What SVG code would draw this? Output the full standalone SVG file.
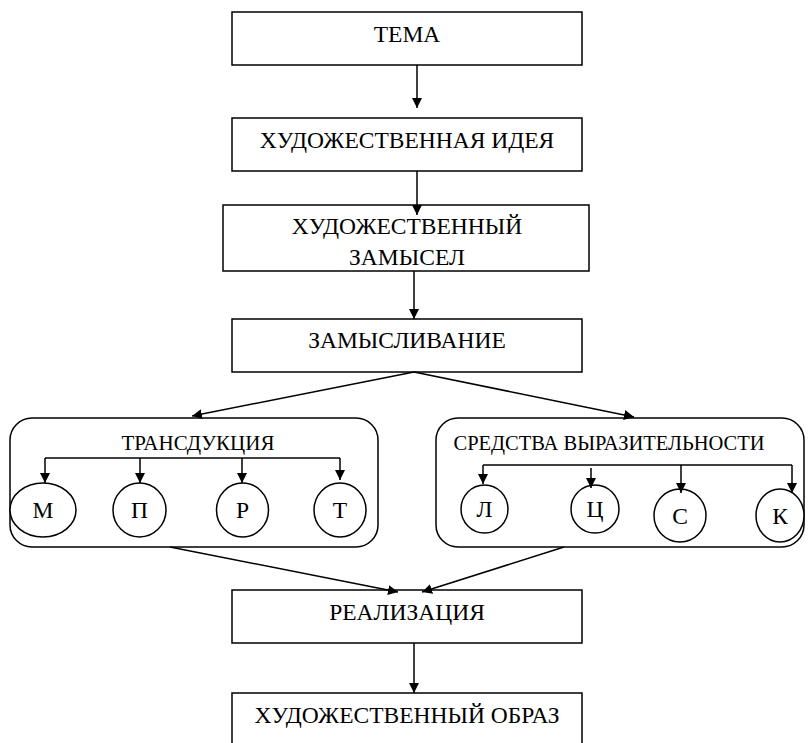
<svg xmlns="http://www.w3.org/2000/svg" width="808" height="743" viewBox="0 0 808 743">
<defs>
<marker id="ah" viewBox="0 0 10 10" refX="10" refY="5" markerWidth="10" markerHeight="10" markerUnits="userSpaceOnUse" orient="auto">
<path d="M0,0 L10,5 L0,10 Z" fill="#000"/>
</marker>
</defs>
<style>
.b { fill: #fff; stroke: #000; stroke-width: 1.5; }
.c line { stroke: #000; stroke-width: 1.5; fill: none; marker-end: url(#ah); }
.c .plain { marker-end: none; }
.t { font-family: "Liberation Serif", "Times New Roman", serif; font-size: 23.5px; fill: #000; text-anchor: middle; }
.s { font-size: 21px; }
.s2 { font-size: 20.5px; }
</style>

<g id="n-tema"><rect class="b" x="232" y="12" width="350" height="53"/><text class="t" x="407" y="42">ТЕМА</text></g>
<g id="n-idea"><rect class="b" x="232" y="118" width="350" height="53"/><text class="t" x="407" y="148">ХУДОЖЕСТВЕННАЯ ИДЕЯ</text></g>
<g id="n-zamysel"><rect class="b" x="223" y="205" width="366" height="66"/><text class="t" x="407" y="234">ХУДОЖЕСТВЕННЫЙ</text><text class="t" x="407" y="265">ЗАМЫСЕЛ</text></g>
<g id="n-zamysl"><rect class="b" x="232" y="319" width="350" height="53"/><text class="t" x="407" y="348">ЗАМЫСЛИВАНИЕ</text></g>

<g id="n-trans"><rect class="b" x="10" y="418" width="368" height="129" rx="22" ry="22"/><text class="t s" x="198" y="450">ТРАНСДУКЦИЯ</text></g>
<g id="n-m"><ellipse class="b" cx="43" cy="510" rx="33" ry="27"/><text class="t" x="43" y="518">М</text></g>
<g id="n-p"><ellipse class="b" cx="139.5" cy="510" rx="26.5" ry="27"/><text class="t" x="139.5" y="518">П</text></g>
<g id="n-r"><ellipse class="b" cx="242.5" cy="510" rx="26" ry="27"/><text class="t" x="242.5" y="518">Р</text></g>
<g id="n-t"><ellipse class="b" cx="340" cy="510" rx="26" ry="27"/><text class="t" x="340" y="518">Т</text></g>

<g id="n-sredstva"><rect class="b" x="436" y="418" width="368" height="129" rx="22" ry="22"/><text class="t s2" x="609" y="450">СРЕДСТВА ВЫРАЗИТЕЛЬНОСТИ</text></g>
<g id="n-l"><ellipse class="b" cx="484.5" cy="509" rx="23.5" ry="24"/><text class="t" x="484.5" y="517">Л</text></g>
<g id="n-c"><ellipse class="b" cx="595" cy="509" rx="24" ry="24"/><text class="t" x="595" y="517">Ц</text></g>
<g id="n-s"><ellipse class="b" cx="680" cy="515.5" rx="26" ry="26.5"/><text class="t" x="680" y="524">С</text></g>
<g id="n-k"><ellipse class="b" cx="780" cy="515.5" rx="24" ry="26.5"/><text class="t" x="780" y="524">К</text></g>

<g id="n-real"><rect class="b" x="232" y="590" width="350" height="53"/><text class="t" x="407" y="620">РЕАЛИЗАЦИЯ</text></g>
<g id="n-obraz"><rect class="b" x="232" y="693" width="350" height="60"/><text class="t" x="407" y="723">ХУДОЖЕСТВЕННЫЙ ОБРАЗ</text></g>

<g id="connectors" class="c">
<line x1="417" y1="65" x2="417" y2="108"/>
<line x1="417" y1="171" x2="417" y2="215"/>
<line x1="414" y1="271" x2="414" y2="319"/>
<line x1="414" y1="372" x2="192" y2="416"/>
<line x1="414" y1="372" x2="634" y2="417"/>
<line class="plain" x1="45" y1="458" x2="340" y2="458"/>
<line x1="45" y1="458" x2="45" y2="483"/>
<line x1="140" y1="458" x2="140" y2="483"/>
<line x1="242" y1="458" x2="242" y2="483"/>
<line x1="340" y1="458" x2="340" y2="480"/>
<line class="plain" x1="483" y1="465" x2="792" y2="465"/>
<line x1="483" y1="465" x2="483" y2="484"/>
<line x1="591" y1="468" x2="591" y2="488"/>
<line x1="681" y1="465" x2="681" y2="493"/>
<line x1="792" y1="465" x2="792" y2="493"/>
<line x1="170" y1="547" x2="398" y2="592"/>
<line x1="564" y1="547" x2="422" y2="592"/>
<line x1="414" y1="643" x2="414" y2="693"/>
</g>
</svg>
